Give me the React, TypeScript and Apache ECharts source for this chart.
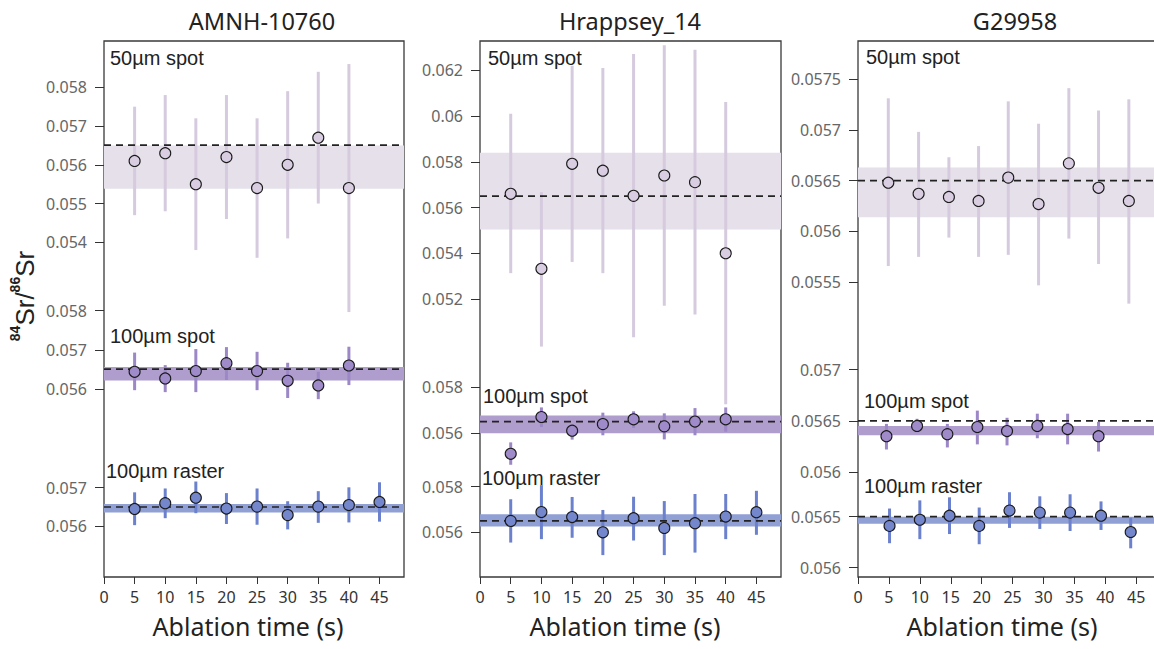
import React, { useEffect, useRef } from 'react';
import * as echarts from 'echarts';

// ---------- data ----------
const X_TICKS = [0, 5, 10, 15, 20, 25, 30, 35, 40, 45];
const TIMES8 = [5, 10, 15, 20, 25, 30, 35, 40];
const TIMES9 = [5, 10, 15, 20, 25, 30, 35, 40, 45];

// AMNH-10760
const amnh50 = [0.0561, 0.0563, 0.0555, 0.0562, 0.0554, 0.056, 0.0567, 0.0554];
const amnh50Hi = [0.0575, 0.0578, 0.0572, 0.0578, 0.0572, 0.0579, 0.0584, 0.0586];
const amnh50Lo = [0.0547, 0.0548, 0.0538, 0.0546, 0.0536, 0.0541, 0.055, 0.0522];
const amnh50Mean = 0.05651;
const amnh50Band = [0.05538, 0.0565];
const amnh50Ticks = [0.054, 0.055, 0.056, 0.057, 0.058];

const amnh100 = [0.05644, 0.05627, 0.05646, 0.05666, 0.05646, 0.05621, 0.05609, 0.0566];
const amnh100Hi = [0.05693, 0.05661, 0.05702, 0.05707, 0.05695, 0.05667, 0.05644, 0.05708];
const amnh100Lo = [0.05597, 0.05592, 0.05592, 0.05623, 0.05597, 0.05577, 0.05574, 0.0561];
const amnh100Mean = 0.05651;
const amnh100Band = [0.05622, 0.05656];
const amnh100Ticks = [0.056, 0.057, 0.058];

const amnhR = [0.05645, 0.0566, 0.05674, 0.05646, 0.05651, 0.05629, 0.05651, 0.05655, 0.05663];
const amnhRHi = [0.05688, 0.05698, 0.05716, 0.05686, 0.05698, 0.05665, 0.05691, 0.05701, 0.05714];
const amnhRLo = [0.05603, 0.05621, 0.05634, 0.05606, 0.05604, 0.05592, 0.05609, 0.0561, 0.05612];
const amnhRMean = 0.0565;
const amnhRBand = [0.05636, 0.05658];
const amnhRTicks = [0.056, 0.057];

// Hrappsey_14
const hra50 = [0.0566, 0.05332, 0.05791, 0.05761, 0.05651, 0.0574, 0.05711, 0.054];
const hra50Hi = [0.0601, 0.05667, 0.0622, 0.0621, 0.06271, 0.0631, 0.0629, 0.06061];
const hra50Lo = [0.05313, 0.04992, 0.05362, 0.05313, 0.05033, 0.05171, 0.05132, 0.0474];
const hra50Mean = 0.0565;
const hra50Band = [0.05504, 0.05839];
const hra50Ticks = [0.052, 0.054, 0.056, 0.058, 0.06, 0.062];

const hra100 = [0.05509, 0.0567, 0.0561, 0.05639, 0.0566, 0.05629, 0.0565, 0.0566];
const hra100Hi = [0.05559, 0.05712, 0.05628, 0.05689, 0.05695, 0.05686, 0.05709, 0.05712];
const hra100Lo = [0.05461, 0.05626, 0.05571, 0.0559, 0.05622, 0.05572, 0.0559, 0.05606];
const hra100Mean = 0.0565;
const hra100Band = [0.05599, 0.05677];
const hra100Ticks = [0.056, 0.058];

const hraR = [0.0565, 0.05689, 0.05667, 0.056, 0.05662, 0.05619, 0.0564, 0.05669, 0.05688];
const hraRHi = [0.05745, 0.05807, 0.05755, 0.05698, 0.05756, 0.05737, 0.05768, 0.05768, 0.05782];
const hraRLo = [0.05555, 0.0557, 0.05576, 0.055, 0.05564, 0.055, 0.05511, 0.0557, 0.05589];
const hraRMean = 0.0565;
const hraRBand = [0.05625, 0.05679];
const hraRTicks = [0.056, 0.058];

// G29958
const g50Times = [4.9, 9.8, 14.7, 19.5, 24.3, 29.2, 34.1, 38.9, 43.8];
const g50 = [0.05648, 0.05637, 0.05634, 0.0563, 0.05653, 0.05627, 0.05667, 0.05643, 0.0563];
const g50Hi = [0.05731, 0.05698, 0.05673, 0.05684, 0.05728, 0.05706, 0.05741, 0.05719, 0.0573];
const g50Lo = [0.05566, 0.05575, 0.05594, 0.05575, 0.05577, 0.05547, 0.05593, 0.05568, 0.05529];
const g50Mean = 0.0565;
const g50Band = [0.05614, 0.05663];
const g50Ticks = [0.0555, 0.056, 0.0565, 0.057, 0.0575];

const g100Times = [4.6, 9.55, 14.45, 19.3, 24.1, 29, 33.9, 38.9];
const g100 = [0.05635, 0.05645, 0.05637, 0.05644, 0.0564, 0.05645, 0.05642, 0.05635];
const g100Hi = [0.05647, 0.05652, 0.05647, 0.0566, 0.05653, 0.05657, 0.05657, 0.05649];
const g100Lo = [0.05622, 0.05639, 0.05624, 0.05627, 0.05626, 0.05633, 0.05627, 0.0562];
const g100Mean = 0.0565;
const g100Band = [0.05636, 0.05645];
const g100Ticks = [0.056, 0.0565, 0.057];

const gRTimes = [5.1, 10, 14.8, 19.6, 24.5, 29.4, 34.3, 39.3, 44.1];
const gR = [0.05641, 0.05647, 0.05651, 0.05641, 0.05656, 0.05654, 0.05654, 0.05651, 0.05635];
const gRHi = [0.05658, 0.05666, 0.05669, 0.05659, 0.05674, 0.0567, 0.05672, 0.05665, 0.05649];
const gRLo = [0.05624, 0.05628, 0.05633, 0.05623, 0.05639, 0.05638, 0.05636, 0.05637, 0.05619];
const gRMean = 0.0565;
const gRBand = [0.05643, 0.0565];
const gRTicks = [0.056, 0.0565];

const TITLES = ['AMNH-10760', 'Hrappsey_14', 'G29958'];
const SUB_LABELS = ['50µm spot', '100µm spot', '100µm raster'];
const X_NAME = 'Ablation time (s)';

// ---------- layout / style ----------
const BOX_TOP = 41;
const BOX_BOTTOM = 577;
const X_MAX = 49;

const STYLES = [
  { band: '#e6e0ea', bar: '#d6cadf', fill: '#d9cde2' },
  { band: '#ae9dcd', bar: '#9c87c7', fill: '#9f8bc9' },
  { band: '#909fd4', bar: '#6c81cd', fill: '#7487cc' },
];

function axisRange(p1: number, v1: number, p2: number, v2: number) {
  const s = (v2 - v1) / (p2 - p1);
  return { max: v1 + (BOX_TOP - p1) * s, min: v1 + (BOX_BOTTOM - p1) * s };
}

const PANELS = [
  {
    left: 104, width: 300, titleX: 262, nameX: 248, border: true,
    subs: [
      { t: TIMES8, v: amnh50, hi: amnh50Hi, lo: amnh50Lo, mean: amnh50Mean, band: amnh50Band, ticks: amnh50Ticks, cal: [87.3, 0.058, 242.3, 0.054], lx: 110, ly: 58 },
      { t: TIMES8, v: amnh100, hi: amnh100Hi, lo: amnh100Lo, mean: amnh100Mean, band: amnh100Band, ticks: amnh100Ticks, cal: [310.7, 0.058, 389, 0.056], lx: 110, ly: 336 },
      { t: TIMES9, v: amnhR, hi: amnhRHi, lo: amnhRLo, mean: amnhRMean, band: amnhRBand, ticks: amnhRTicks, cal: [487.7, 0.057, 526.3, 0.056], lx: 106, ly: 471 },
    ],
  },
  {
    left: 480, width: 301, titleX: 630, nameX: 625, border: true,
    subs: [
      { t: TIMES8, v: hra50, hi: hra50Hi, lo: hra50Lo, mean: hra50Mean, band: hra50Band, ticks: hra50Ticks, cal: [70.3, 0.062, 299, 0.052], lx: 488, ly: 58 },
      { t: TIMES8, v: hra100, hi: hra100Hi, lo: hra100Lo, mean: hra100Mean, band: hra100Band, ticks: hra100Ticks, cal: [387.3, 0.058, 433, 0.056], lx: 483, ly: 396 },
      { t: TIMES9, v: hraR, hi: hraRHi, lo: hraRLo, mean: hraRMean, band: hraRBand, ticks: hraRTicks, cal: [486.7, 0.058, 532.3, 0.056], lx: 482, ly: 478 },
    ],
  },
  {
    left: 858, width: 303, titleX: 1015, nameX: 1002, border: true,
    subs: [
      { t: g50Times, v: g50, hi: g50Hi, lo: g50Lo, mean: g50Mean, band: g50Band, ticks: g50Ticks, cal: [79, 0.0575, 282.3, 0.0555], lx: 866, ly: 57 },
      { t: g100Times, v: g100, hi: g100Hi, lo: g100Lo, mean: g100Mean, band: g100Band, ticks: g100Ticks, cal: [369.7, 0.057, 472, 0.056], lx: 864, ly: 401 },
      { t: gRTimes, v: gR, hi: gRHi, lo: gRLo, mean: gRMean, band: gRBand, ticks: gRTicks, cal: [516.7, 0.0565, 567.7, 0.056], lx: 864, ly: 486 },
    ],
  },
];

function fmt(v: number) {
  return String(parseFloat(v.toFixed(5)));
}

function buildOption() {
  const grid: any[] = [];
  const xAxis: any[] = [];
  const yAxis: any[] = [];
  const series: any[] = [];
  const graphic: any[] = [];

  PANELS.forEach((p, pi) => {
    grid.push({
      left: p.left, top: BOX_TOP, width: p.width, height: BOX_BOTTOM - BOX_TOP,
      show: true, borderColor: '#3a3a3a', borderWidth: 1.3, backgroundColor: 'transparent',
      containLabel: false, outerBoundsMode: 'none',
    });
    xAxis.push({
      type: 'value', gridIndex: pi, min: 0, max: X_MAX,
      axisLine: { show: false },
      axisTick: { show: true, length: 7, customValues: X_TICKS, lineStyle: { color: '#333', width: 1 } },
      axisLabel: { customValues: X_TICKS, fontSize: 16, color: '#333', fontFamily: 'Noto Sans', margin: 12 },
      splitLine: { show: false },
    });
    graphic.push({
      type: 'text', x: p.titleX, y: 21,
      style: { text: TITLES[pi], align: 'center', verticalAlign: 'middle', fontSize: 23.5, fontFamily: 'Noto Sans', fill: '#222' },
    });
    graphic.push({
      type: 'text', x: p.nameX, y: 626,
      style: { text: X_NAME, align: 'center', verticalAlign: 'middle', fontSize: 25, fontFamily: 'Noto Sans', fill: '#222' },
    });

    p.subs.forEach((s, si) => {
      const yi = yAxis.length;
      const r = axisRange(s.cal[0], s.cal[1], s.cal[2], s.cal[3]);
      const st = STYLES[si];
      yAxis.push({
        type: 'value', gridIndex: pi, position: 'left', min: r.min, max: r.max,
        axisLine: { show: false },
        axisTick: { show: true, length: 9, customValues: s.ticks, lineStyle: { color: '#333', width: 1 } },
        axisLabel: { customValues: s.ticks, formatter: (v: number) => fmt(v), fontSize: 16, color: '#666', fontFamily: 'Noto Sans', margin: 17 },
        splitLine: { show: false },
      });
      // band
      series.push({
        type: 'custom', xAxisIndex: pi, yAxisIndex: yi, z: 1, silent: true,
        data: [[0, s.band[0], s.band[1]]],
        encode: { x: 0, y: [1, 2] },
        renderItem: (params: any, api: any) => {
          const cs = params.coordSys;
          const yTop = api.coord([0, api.value(2)])[1];
          const yBot = api.coord([0, api.value(1)])[1];
          return { type: 'rect', shape: { x: cs.x, y: yTop, width: cs.width, height: yBot - yTop }, style: { fill: st.band } };
        },
      });
      // error bars
      series.push({
        type: 'custom', xAxisIndex: pi, yAxisIndex: yi, z: 2, silent: true,
        data: s.t.map((t, i) => [t, s.lo[i], s.hi[i]]),
        encode: { x: 0, y: [1, 2] },
        renderItem: (params: any, api: any) => {
          const a = api.coord([api.value(0), api.value(1)]);
          const b = api.coord([api.value(0), api.value(2)]);
          return { type: 'line', shape: { x1: a[0], y1: a[1], x2: b[0], y2: b[1] }, style: { stroke: st.bar, lineWidth: 3 } };
        },
      });
      // mean dashed line
      series.push({
        type: 'custom', xAxisIndex: pi, yAxisIndex: yi, z: 3, silent: true,
        data: [[0, s.mean]],
        encode: { x: 0, y: 1 },
        renderItem: (params: any, api: any) => {
          const cs = params.coordSys;
          const y = api.coord([0, api.value(1)])[1];
          return { type: 'line', shape: { x1: cs.x, y1: y, x2: cs.x + cs.width, y2: y }, style: { stroke: '#222', lineWidth: 1.7, lineDash: [7, 5] } };
        },
      });
      // points
      series.push({
        type: 'scatter', xAxisIndex: pi, yAxisIndex: yi, z: 4,
        symbol: 'circle', symbolSize: 11,
        itemStyle: { color: st.fill, borderColor: '#1a1a1a', borderWidth: 1.1, opacity: 1 },
        data: s.t.map((t, i) => [t, s.v[i]]),
      });
      graphic.push({
        type: 'text', x: s.lx, y: s.ly,
        style: { text: SUB_LABELS[si], align: 'left', verticalAlign: 'middle', fontSize: 20, fontFamily: 'Liberation Sans', fill: '#222' },
      });
    });
  });

  graphic.push({
    type: 'text', x: 23, y: 296, rotation: Math.PI / 2,
    style: {
      text: '{sup|84}{main|Sr/}{sup|86}{main|Sr}',
      align: 'center', verticalAlign: 'middle',
      rich: {
        main: { fontSize: 26, fontFamily: 'Liberation Sans', fill: '#222', lineHeight: 30, verticalAlign: 'bottom' },
        sup: { fontSize: 14, fontFamily: 'Liberation Sans', fill: '#222', fontWeight: 'bold', lineHeight: 30, verticalAlign: 'top' },
      },
    },
  });

  return { animation: false, backgroundColor: '#fff', grid, xAxis, yAxis, series, graphic };
}

export default function App() {
  const ref = useRef<HTMLDivElement>(null);
  useEffect(() => {
    if (!ref.current) return;
    const chart = echarts.init(ref.current, undefined, { renderer: 'svg' });
    chart.setOption(buildOption() as any);
    return () => chart.dispose();
  }, []);
  return <div ref={ref} style={{ position: 'absolute', left: 0, top: 0, width: 1154, height: 649 }} />;
}
